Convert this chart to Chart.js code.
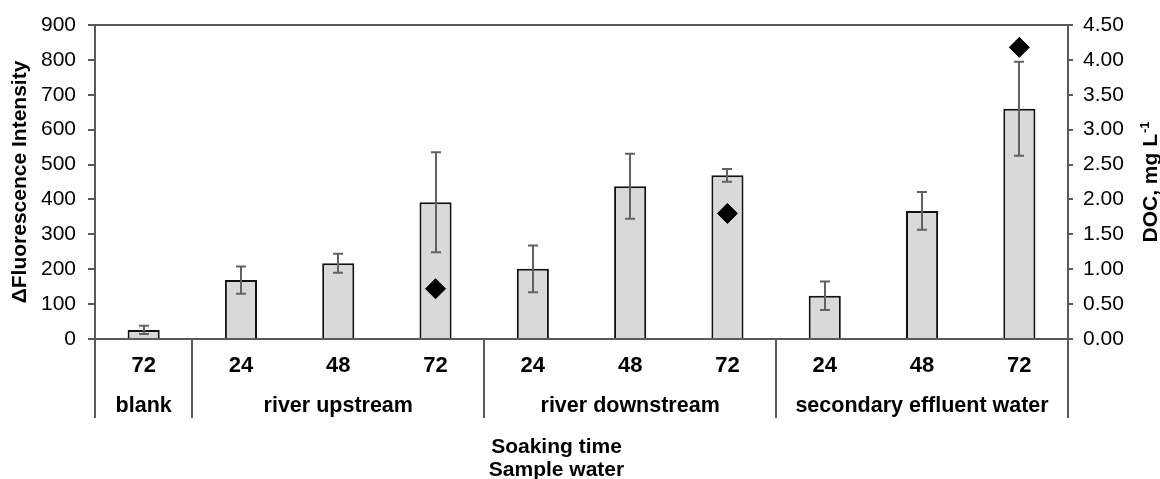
<!DOCTYPE html>
<html>
<head>
<meta charset="utf-8">
<script src="https://cdn.jsdelivr.net/npm/chart.js@4.4.1/dist/chart.umd.min.js"></script>
<style>
  html, body { margin: 0; padding: 0; background: #fff; }
  #wrap { width: 1160px; height: 479px; }
</style>
</head>
<body>
<div id="wrap"><canvas id="c" width="1160" height="479"></canvas></div>
<script>
// Soaking time (h) for each bar, and the sample water each run of bars belongs to
const soakingTimes = ['72', '24', '48', '72', '24', '48', '72', '24', '48', '72'];
const sampleGroups = ['blank', 'river upstream', 'river downstream', 'secondary effluent water'];
const groupSizes = [1, 3, 3, 3];

// ΔFluorescence intensity (bars) with standard deviation
const fluorescence = [26, 169, 217, 392, 201, 438, 469, 124, 367, 660];
const fluorescenceSD = [12, 39, 27, 143, 67, 93, 18, 41, 54, 135];

// DOC, mg/L (diamonds, right axis)
const docValues = [null, null, null, 0.72, null, null, 1.80, null, null, 4.18];

// Axis tick values
const fluorTickValues = [0, 100, 200, 300, 400, 500, 600, 700, 800, 900];
const docTickValues = [0, 0.5, 1, 1.5, 2, 2.5, 3, 3.5, 4, 4.5];

const FONT = '"Liberation Sans", Arial, Helvetica, sans-serif';
const AXIS_GREY = '#5a5a5a';

// Error bars, category separators, group labels and extra titles
const decorations = {
  id: 'decorations',
  afterDatasetsDraw(chart) {
    const { ctx, scales: { x, y } } = chart;
    ctx.save();
    ctx.strokeStyle = '#626262';
    ctx.lineWidth = 2;
    fluorescence.forEach((v, i) => {
      const px = Math.round(x.getPixelForValue(i));
      const hi = y.getPixelForValue(v + fluorescenceSD[i]);
      const lo = y.getPixelForValue(Math.max(0, v - fluorescenceSD[i]));
      ctx.beginPath();
      ctx.moveTo(px, hi); ctx.lineTo(px, lo);
      ctx.moveTo(px - 5, hi); ctx.lineTo(px + 5, hi);
      ctx.moveTo(px - 5, lo); ctx.lineTo(px + 5, lo);
      ctx.stroke();
    });
    ctx.restore();
  },
  afterDraw(chart) {
    const { ctx, chartArea: a, scales: { x, y1 } } = chart;
    ctx.save();

    // frame line along the top of the plot
    ctx.strokeStyle = AXIS_GREY;
    ctx.lineWidth = 2;
    ctx.beginPath();
    ctx.moveTo(a.left, a.top);
    ctx.lineTo(a.right, a.top);
    ctx.stroke();

    // separators between sample-water groups
    let start = 0;
    const bounds = [-0.5];
    groupSizes.forEach(n => { start += n; bounds.push(start - 0.5); });
    ctx.beginPath();
    bounds.forEach(b => {
      const px = Math.round(x.getPixelForValue(b));
      ctx.moveTo(px, a.bottom);
      ctx.lineTo(px, a.bottom + 79);
    });
    ctx.stroke();

    // group names
    ctx.fillStyle = '#000';
    ctx.font = 'bold 21.5px ' + FONT;
    ctx.textAlign = 'center';
    ctx.textBaseline = 'alphabetic';
    start = 0;
    sampleGroups.forEach((name, g) => {
      const mid = start + (groupSizes[g] - 1) / 2;
      ctx.fillText(name, x.getPixelForValue(mid), a.bottom + 73);
      start += groupSizes[g];
    });

    // horizontal axis title (two levels)
    const cx = (a.left + a.right) / 2 - 25;
    ctx.font = 'bold 21px ' + FONT;
    ctx.fillText('Soaking time', cx, a.bottom + 114);
    ctx.fillText('Sample water', cx, a.bottom + 137);

    // right axis title with superscript
    const main = 'DOC, mg L';
    const sup = '-1';
    ctx.font = 'bold 21px ' + FONT;
    const wm = ctx.measureText(main).width;
    ctx.font = 'bold 13px ' + FONT;
    const ws = ctx.measureText(sup).width;
    const total = wm + 1 + ws;
    ctx.translate(y1.right - 3, (a.top + a.bottom) / 2);
    ctx.rotate(-Math.PI / 2);
    ctx.textAlign = 'left';
    ctx.font = 'bold 21px ' + FONT;
    ctx.fillText(main, -total / 2, 0);
    ctx.font = 'bold 13px ' + FONT;
    ctx.fillText(sup, -total / 2 + wm + 1, -8);
    ctx.restore();
  }
};

new Chart(document.getElementById('c'), {
  data: {
    labels: soakingTimes,
    datasets: [
      {
        type: 'line',
        label: 'DOC',
        data: docValues,
        yAxisID: 'y1',
        showLine: false,
        pointStyle: 'rectRot',
        pointRadius: 10,
        pointBorderWidth: 1,
        pointBackgroundColor: '#000',
        pointBorderColor: '#000',
        order: 0
      },
      {
        type: 'bar',
        label: 'ΔFluorescence Intensity',
        data: fluorescence,
        yAxisID: 'y',
        backgroundColor: '#d9d9d9',
        borderColor: '#111',
        borderWidth: 2,
        barPercentage: 0.33,
        categoryPercentage: 1,
        order: 1
      }
    ]
  },
  options: {
    responsive: false,
    animation: false,
    layout: { padding: { top: 25, left: 0, right: 0, bottom: 0 } },
    plugins: { legend: { display: false }, tooltip: { enabled: false } },
    scales: {
      x: {
        offset: true,
        grid: { display: false, drawTicks: false },
        border: { display: true, color: AXIS_GREY, width: 2 },
        ticks: {
          color: '#000',
          font: { family: FONT, size: 22, weight: 'bold' },
          padding: 14,
          maxRotation: 0,
          autoSkip: false
        },
        afterFit: s => { s.height = 140; }
      },
      y: {
        position: 'left',
        min: 0,
        max: 900,
        afterBuildTicks: s => { s.ticks = fluorTickValues.map(v => ({ value: v })); },
        afterFit: s => { s.width = 95; },
        grid: { drawOnChartArea: false, drawTicks: true, tickLength: 7, color: AXIS_GREY, lineWidth: 2 },
        border: { display: true, color: AXIS_GREY, width: 2 },
        ticks: { color: '#000', font: { family: FONT, size: 21 }, padding: 12 },
        title: {
          display: true,
          text: 'ΔFluorescence Intensity',
          color: '#000',
          font: { family: FONT, size: 21, weight: 'bold' },
          padding: { top: 8, bottom: 0 }
        }
      },
      y1: {
        position: 'right',
        min: 0,
        max: 4.5,
        afterBuildTicks: s => { s.ticks = docTickValues.map(v => ({ value: v })); },
        afterFit: s => { s.width = 92; },
        grid: { drawOnChartArea: false, drawTicks: true, tickLength: 5, color: AXIS_GREY, lineWidth: 2 },
        border: { display: true, color: AXIS_GREY, width: 2 },
        ticks: {
          color: '#000',
          font: { family: FONT, size: 21 },
          padding: 10,
          callback: v => Number(v).toFixed(2)
        }
      }
    }
  },
  plugins: [decorations]
});
</script>
</body>
</html>
